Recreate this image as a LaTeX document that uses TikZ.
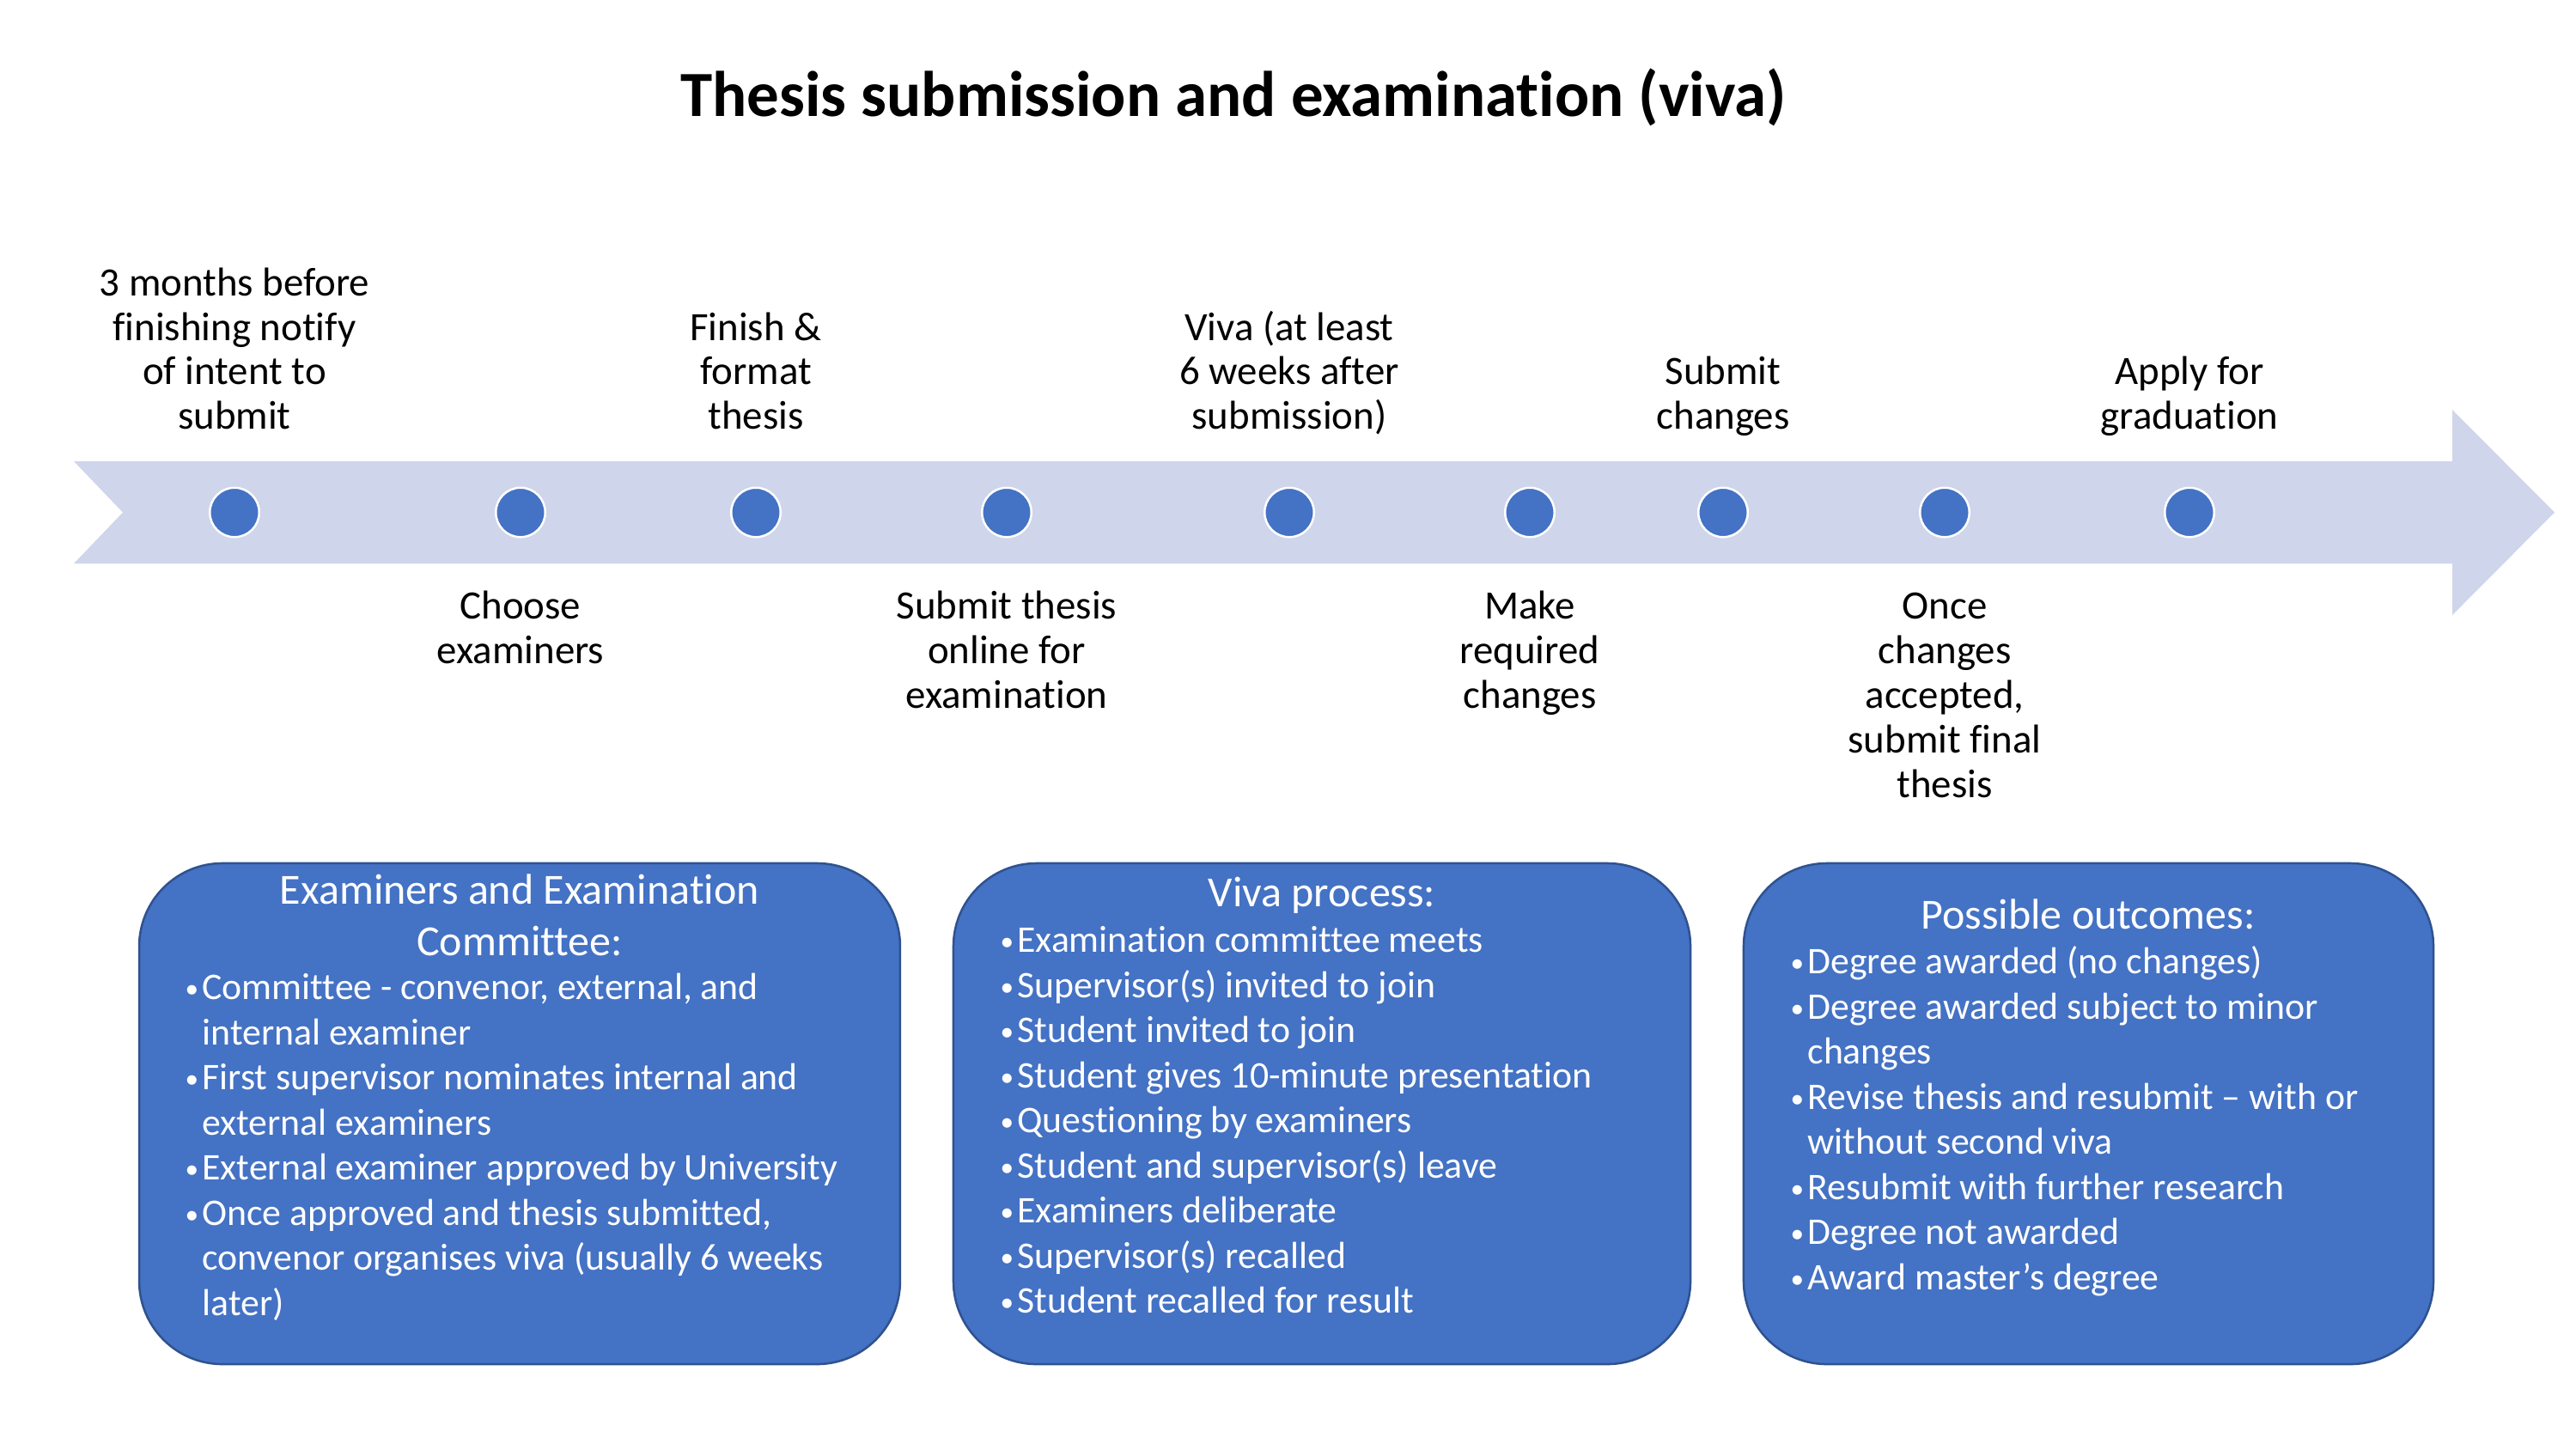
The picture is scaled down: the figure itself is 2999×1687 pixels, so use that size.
\documentclass[tikz,border=0pt]{standalone}
\usepackage{fontspec}
\setmainfont{Carlito}[Ligatures={NoCommon}]
\definecolor{band}{HTML}{CFD5EA}
\definecolor{ofblue}{HTML}{4472C4}
\definecolor{ofedge}{HTML}{2F528F}
\newcommand\bul{\makebox[7pt][l]{\hspace{0.6pt}\raisebox{0.7pt}{\fontsize{10}{10}\selectfont •}}}
\newcommand\ind{\hspace*{7pt}}
\begin{document}
\begin{tikzpicture}[x=0.32pt,y=-0.32pt,
  dot/.style={circle, fill=ofblue, draw=white, line width=0.8pt, minimum size=18.4pt, inner sep=0pt},
  lbl/.style={font=\fontsize{15}{16.6}\selectfont, align=center, inner sep=0pt, text=black},
  box/.style={rectangle, rounded corners=31pt, fill=ofblue, draw=ofedge, line width=0.8pt, minimum height=186.6pt, inner sep=0pt},
  boxhead/.style={font=\fontsize{16}{19.2}\selectfont, align=center, inner sep=0pt, text=white},
  boxlist/.style={font=\fontsize{14}{16.8}\selectfont, align=left, inner sep=0pt, text=white, anchor=north west}]
\useasboundingbox (0,0) rectangle (2999,1687);
% title
\node[font=\fontsize{24}{29}\selectfont\bfseries, anchor=base, inner sep=0pt] (title) at (1436,135) {Thesis submission and examination (viva)};
% timeline band
\fill[band] (86,537) -- (2855,537) -- (2855,477) -- (2974,596.5) -- (2855,716) -- (2855,656) -- (86,656) -- (143,596.5) -- cycle;
% dots
\node[dot] (d1) at (273,596.5) {};
\node[dot] (d2) at (606,596.5) {};
\node[dot] (d3) at (880,596.5) {};
\node[dot] (d4) at (1172,596.5) {};
\node[dot] (d5) at (1501,596.5) {};
\node[dot] (d6) at (1781,596.5) {};
\node[dot] (d7) at (2006,596.5) {};
\node[dot] (d8) at (2264,596.5) {};
\node[dot] (d9) at (2549,596.5) {};
\coordinate (top) at (0,516);
\coordinate (bot) at (0,684);
% labels above
\node[lbl, anchor=south] (l1) at (d1 |- top) {\strut 3 months before\\finishing notify\\of intent to\\submit\strut};
\node[lbl, anchor=south] (l3) at (d3 |- top) {\strut Finish \&\\format\\thesis\strut};
\node[lbl, anchor=south] (l5) at (d5 |- top) {\strut Viva (at least\\6 weeks after\\submission)\strut};
\node[lbl, anchor=south] (l7) at (d7 |- top) {\strut Submit\\changes\strut};
\node[lbl, anchor=south] (l9) at (d9 |- top) {\strut Apply for\\graduation\strut};
% labels below
\node[lbl, anchor=north] (l2) at (d2 |- bot) {\strut Choose\\examiners\strut};
\node[lbl, anchor=north] (l4) at (d4 |- bot) {\strut Submit thesis\\online for\\examination\strut};
\node[lbl, anchor=north] (l6) at (d6 |- bot) {\strut Make\\required\\changes\strut};
\node[lbl, anchor=north] (l8) at (d8 |- bot) {\strut Once\\changes\\accepted,\\submit final\\thesis\strut};
% boxes
\node[box, minimum width=283.5pt] (b1) at (605,1296.5) {};
\node[box, minimum width=274.6pt] (b2) at (1539,1296.5) {};
\node[box, minimum width=257pt] (b3) at (2431.5,1296.5) {};
% box 1
\node[boxhead, anchor=north] (h1) at (605,1010) {\strut Examiners and Examination\\Committee:\strut};
\node[boxlist] (t1) at (213,1126.5) {\strut\bul Committee - convenor, external, and\\
\ind internal examiner\\
\bul First supervisor nominates internal and\\
\ind external examiners\\
\bul External examiner approved by University\\
\bul Once approved and thesis submitted,\\
\ind convenor organises viva (usually 6 weeks\\
\ind later)\strut};
% box 2
\node[boxhead, anchor=base] (h2) at (1539,1055) {Viva process:};
\node[boxlist] (t2) at (1162,1071.5) {\strut\bul Examination committee meets\\
\bul Supervisor(s) invited to join\\
\bul Student invited to join\\
\bul Student gives 10-minute presentation\\
\bul Questioning by examiners\\
\bul Student and supervisor(s) leave\\
\bul Examiners deliberate\\
\bul Supervisor(s) recalled\\
\bul Student recalled for result\strut};
% box 3
\node[boxhead, anchor=base] (h3) at (2431,1081) {Possible outcomes:};
\node[boxlist] (t3) at (2082,1096.5) {\strut\bul Degree awarded (no changes)\\
\bul Degree awarded subject to minor\\
\ind changes\\
\bul Revise thesis and resubmit – with or\\
\ind without second viva\\
\bul Resubmit with further research\\
\bul Degree not awarded\\
\bul Award master’s degree\strut};
\end{tikzpicture}
\end{document}
